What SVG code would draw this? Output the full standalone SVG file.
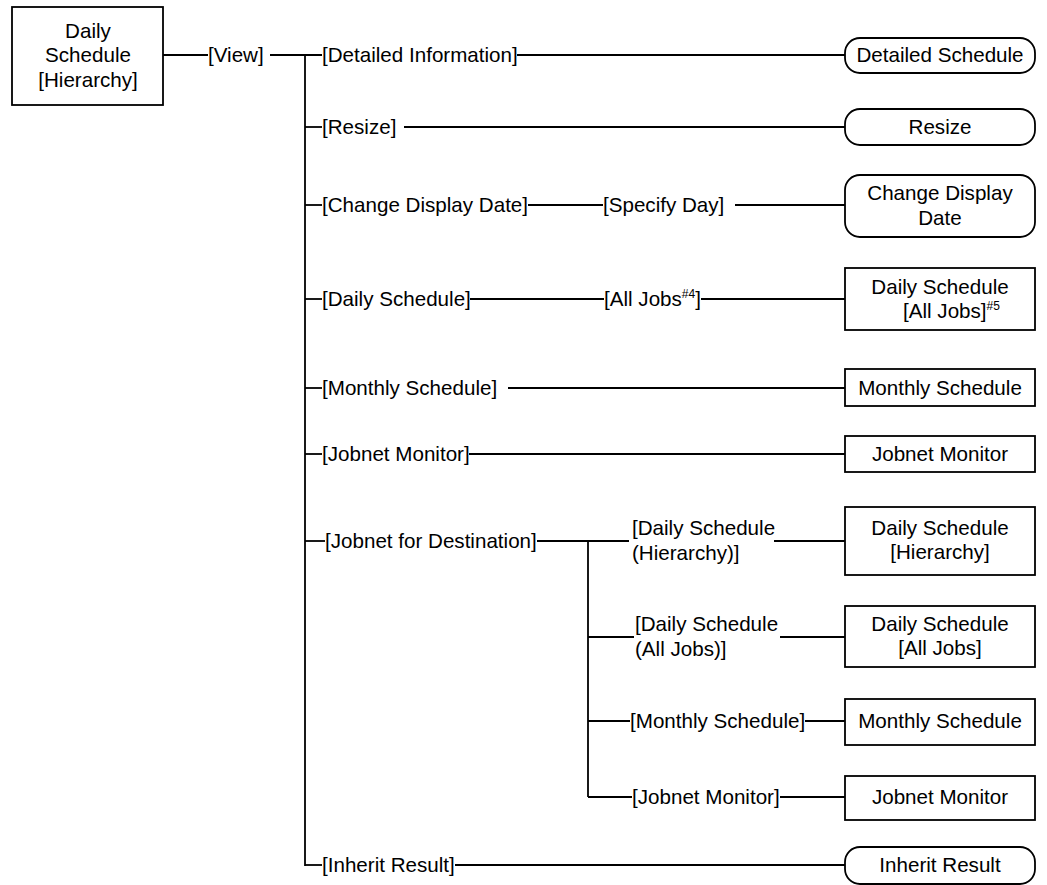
<svg xmlns="http://www.w3.org/2000/svg" width="1047" height="885" viewBox="0 0 1047 885">
  <style>
    text { font-family: "Liberation Sans", Arial, sans-serif; font-size: 20.6px; fill: #000; }
    .mid { text-anchor: middle; }
    .sup { font-size: 12px; }
    .box { fill: #fff; stroke: #000; stroke-width: 1.8; }
    .conn line { stroke: #000; stroke-width: 1.8; }
  </style>
  <rect width="1047" height="885" fill="#fff"/>

  <!-- connectors -->
  <g id="connectors" class="conn">
    <line x1="163" y1="55" x2="208" y2="55"/>
    <line x1="270" y1="55" x2="322" y2="55"/>
    <line x1="305" y1="55" x2="305" y2="866"/>
    <line x1="517" y1="55" x2="845" y2="55"/>
    <line x1="305" y1="127" x2="322" y2="127"/>
    <line x1="404" y1="127" x2="845" y2="127"/>
    <line x1="305" y1="205" x2="322" y2="205"/>
    <line x1="528" y1="205" x2="603" y2="205"/>
    <line x1="735" y1="205" x2="845" y2="205"/>
    <line x1="305" y1="299" x2="322" y2="299"/>
    <line x1="470" y1="299" x2="604" y2="299"/>
    <line x1="701" y1="299" x2="845" y2="299"/>
    <line x1="305" y1="388" x2="322" y2="388"/>
    <line x1="508" y1="388" x2="845" y2="388"/>
    <line x1="305" y1="454" x2="322" y2="454"/>
    <line x1="469" y1="454" x2="845" y2="454"/>
    <line x1="305" y1="541" x2="325" y2="541"/>
    <line x1="537" y1="541" x2="629" y2="541"/>
    <line x1="588" y1="541" x2="588" y2="797"/>
    <line x1="774" y1="541" x2="845" y2="541"/>
    <line x1="588" y1="637" x2="634" y2="637"/>
    <line x1="780" y1="637" x2="845" y2="637"/>
    <line x1="588" y1="721" x2="630" y2="721"/>
    <line x1="805" y1="721" x2="845" y2="721"/>
    <line x1="588" y1="797" x2="632" y2="797"/>
    <line x1="780" y1="797" x2="845" y2="797"/>
    <line x1="305" y1="865" x2="322" y2="865"/>
    <line x1="455" y1="865" x2="845" y2="865"/>
  </g>

  <!-- root window -->
  <g id="root">
    <rect class="box" x="12" y="7" width="151" height="98"/>
    <text class="mid" x="88" y="38">Daily</text>
    <text class="mid" x="88" y="62">Schedule</text>
    <text class="mid" x="88" y="87">[Hierarchy]</text>
  </g>

  <!-- menu labels -->
  <g id="menu-view"><text x="208" y="62">[View]</text></g>
  <g id="menu-detailed"><text x="322" y="62">[Detailed Information]</text></g>
  <g id="menu-resize"><text x="322" y="134">[Resize]</text></g>
  <g id="menu-change-date"><text x="322" y="212">[Change Display Date]</text></g>
  <g id="menu-specify-day"><text x="603" y="212">[Specify Day]</text></g>
  <g id="menu-daily"><text x="322" y="306">[Daily Schedule]</text></g>
  <g id="menu-all-jobs"><text x="604" y="306">[All Jobs<tspan class="sup" dy="-8">#4</tspan><tspan dy="8">]</tspan></text></g>
  <g id="menu-monthly"><text x="322" y="395">[Monthly Schedule]</text></g>
  <g id="menu-jobnet-monitor"><text x="322" y="461">[Jobnet Monitor]</text></g>
  <g id="menu-destination"><text x="325" y="548">[Jobnet for Destination]</text></g>
  <g id="menu-dest-hierarchy">
    <text x="632" y="535">[Daily Schedule</text>
    <text x="632" y="560">(Hierarchy)]</text>
  </g>
  <g id="menu-dest-all-jobs">
    <text x="635" y="631">[Daily Schedule</text>
    <text x="635" y="656">(All Jobs)]</text>
  </g>
  <g id="menu-dest-monthly"><text x="630" y="728">[Monthly Schedule]</text></g>
  <g id="menu-dest-monitor"><text x="632" y="804">[Jobnet Monitor]</text></g>
  <g id="menu-inherit"><text x="322" y="872">[Inherit Result]</text></g>

  <!-- target windows and dialogs -->
  <g id="detailed-schedule">
    <rect class="box" x="845" y="38" width="190" height="35" rx="15"/>
    <text class="mid" x="940" y="62">Detailed Schedule</text>
  </g>
  <g id="resize">
    <rect class="box" x="845" y="109" width="190" height="36" rx="15"/>
    <text class="mid" x="940" y="134">Resize</text>
  </g>
  <g id="change-display-date">
    <rect class="box" x="845" y="175" width="190" height="62" rx="15"/>
    <text class="mid" x="940" y="200">Change Display</text>
    <text class="mid" x="940" y="225">Date</text>
  </g>
  <g id="daily-all-jobs">
    <rect class="box" x="845" y="268" width="190" height="62"/>
    <text class="mid" x="940" y="294">Daily Schedule</text>
    <text x="903" y="318">[All Jobs]<tspan class="sup" dy="-8">#5</tspan></text>
  </g>
  <g id="monthly-schedule">
    <rect class="box" x="845" y="369" width="190" height="37"/>
    <text class="mid" x="940" y="395">Monthly Schedule</text>
  </g>
  <g id="jobnet-monitor">
    <rect class="box" x="845" y="436" width="190" height="36"/>
    <text class="mid" x="940" y="461">Jobnet Monitor</text>
  </g>
  <g id="dest-daily-hierarchy">
    <rect class="box" x="845" y="507" width="190" height="68"/>
    <text class="mid" x="940" y="535">Daily Schedule</text>
    <text class="mid" x="940" y="559">[Hierarchy]</text>
  </g>
  <g id="dest-daily-all-jobs">
    <rect class="box" x="845" y="606" width="190" height="61"/>
    <text class="mid" x="940" y="631">Daily Schedule</text>
    <text class="mid" x="940" y="655">[All Jobs]</text>
  </g>
  <g id="dest-monthly-schedule">
    <rect class="box" x="845" y="699" width="190" height="46"/>
    <text class="mid" x="940" y="728">Monthly Schedule</text>
  </g>
  <g id="dest-jobnet-monitor">
    <rect class="box" x="845" y="776" width="190" height="44"/>
    <text class="mid" x="940" y="804">Jobnet Monitor</text>
  </g>
  <g id="inherit-result">
    <rect class="box" x="845" y="847" width="190" height="37" rx="15"/>
    <text class="mid" x="940" y="872">Inherit Result</text>
  </g>
</svg>
